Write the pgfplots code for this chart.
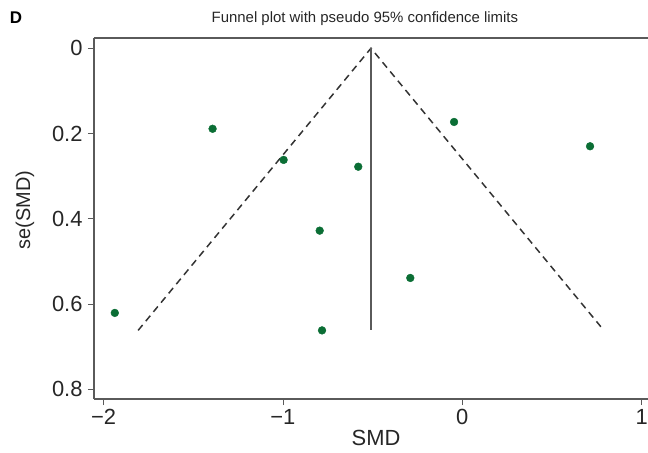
\documentclass[border=0pt]{standalone}
\usepackage{pgfplots}
\pgfplotsset{compat=1.18}
\usepackage{fontspec}
\setmainfont{Liberation Sans}
\definecolor{ptgreen}{HTML}{0B6E35}
\definecolor{axgray}{HTML}{5A5A5A}
\begin{document}
\begin{tikzpicture}
\begin{axis}[
  at={(0,0)}, anchor=south west,
  scale only axis, width=554bp, height=361bp,
  xmin=-2.053, xmax=1.035,
  ymin=-0.024, ymax=0.823,
  y dir=reverse,
  axis x line*=bottom, axis y line*=left,
  axis line style={axgray, line width=1.1pt, -},
  tick style={axgray, line width=0.8pt},
  tick align=outside, major tick length=6bp,
  xtick={-2,-1,0,1}, xticklabels={−2,−1,0,1},
  ytick={0,0.2,0.4,0.6,0.8}, yticklabels={0,0.2,0.4,0.6,0.8},
  ticklabel style={font=\fontsize{22}{24}\selectfont, text=black!85},
  xticklabel style={yshift=-1bp},
  yticklabel style={xshift=-2bp},
  clip=false,
]
% funnel limits
\addplot[black!80, dash pattern=on 7bp off 5bp, line width=1.5pt]
  coordinates {(-1.807,0.662) (-0.509,0) (0.789,0.662)};
% pooled estimate
\addplot[axgray, line width=1.5pt] coordinates {(-0.509,0) (-0.509,0.662)};
% studies
\addplot[only marks, mark=*, mark size=3.9bp, color=ptgreen, mark options={fill=ptgreen, draw=ptgreen}]
  coordinates {
  (-1.392,0.189)
  (-0.996,0.262)
  (-0.580,0.278)
  (-0.046,0.173)
  (0.712,0.230)
  (-0.795,0.428)
  (-0.290,0.539)
  (-1.937,0.621)
  (-0.782,0.662)
  };
\draw[axgray, line width=1.1pt] (rel axis cs:0,1) -- (rel axis cs:1,1);
\node[font=\fontsize{15}{17}\selectfont, text=black!85] at ([yshift=19bp]rel axis cs:0.489,1) {Funnel plot with pseudo 95\% confidence limits};
\node[font=\fontsize{17}{19}\selectfont\bfseries] at ([xshift=-78bp, yshift=20bp]rel axis cs:0,1) {D};
\node[font=\fontsize{20}{22}\selectfont, rotate=90, text=black!85] at ([xshift=-69bp]rel axis cs:0,0.524) {se(SMD)};
\node[font=\fontsize{22}{24}\selectfont, text=black!85] at ([yshift=-39bp]rel axis cs:0.509,0) {SMD};
\end{axis}
\pgfresetboundingbox
\path (-94bp,-54bp) rectangle (554bp,399bp);
\end{tikzpicture}
\end{document}
